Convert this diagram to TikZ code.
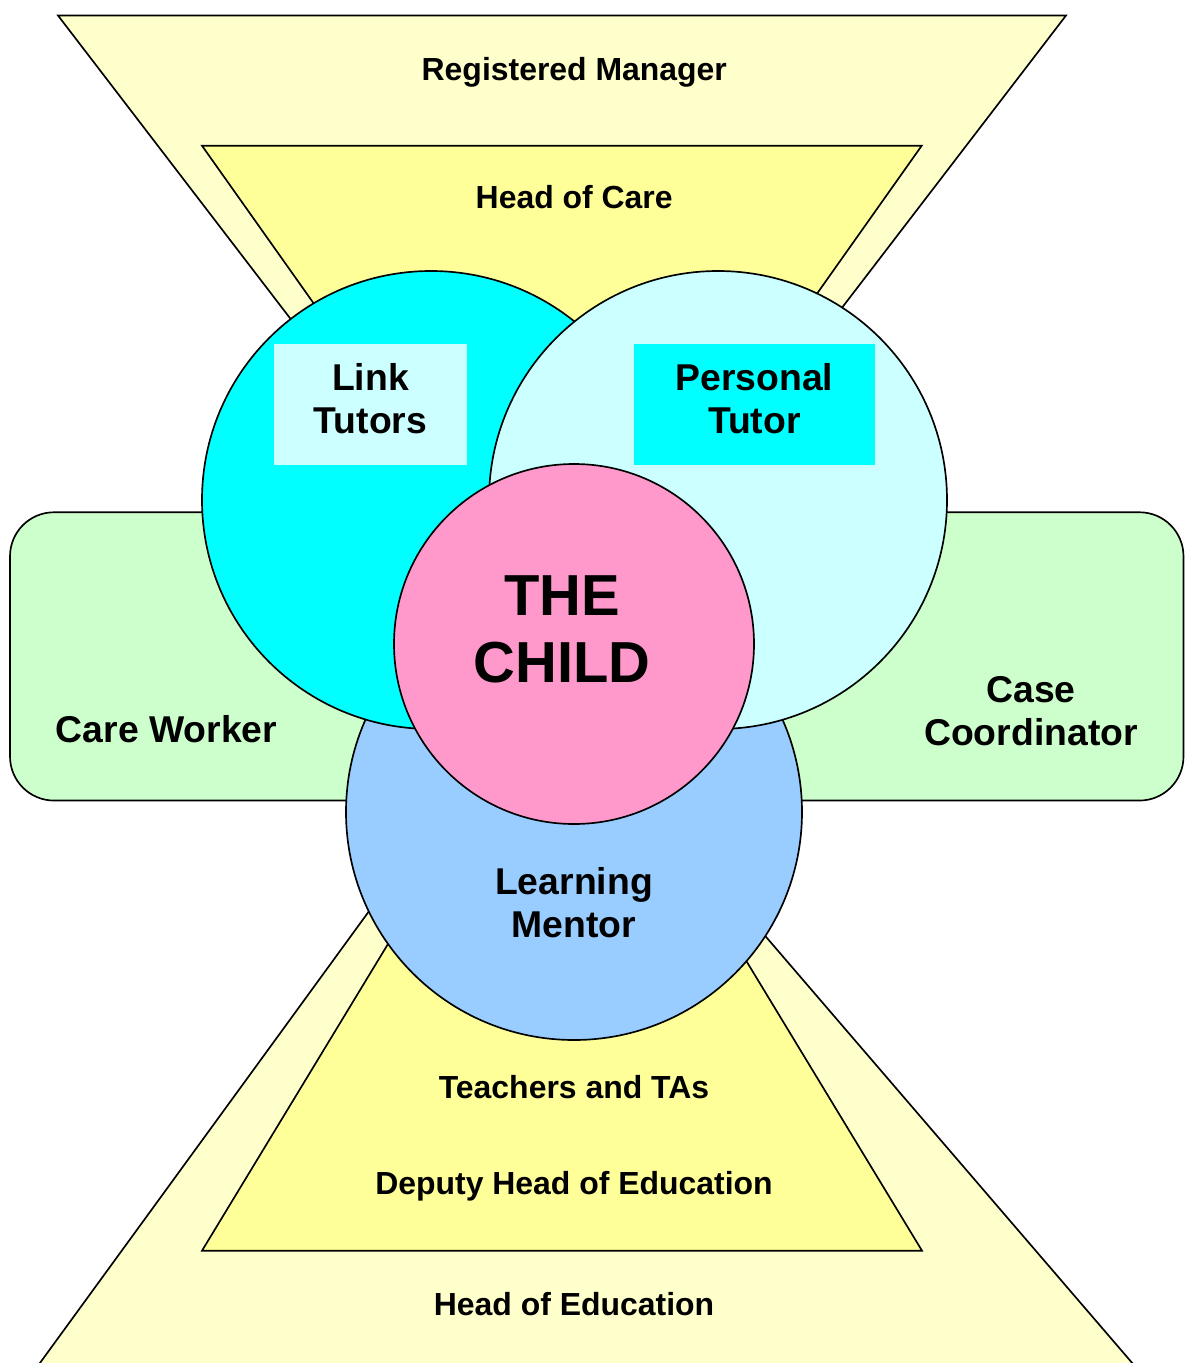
\documentclass[tikz,border=0pt]{standalone}
\usepackage{fontspec}
\setmainfont{Liberation Sans}
\definecolor{outerY}{HTML}{FFFFCC}
\definecolor{innerY}{HTML}{FFFF99}
\definecolor{bandG}{HTML}{CCFFCC}
\definecolor{cyanC}{HTML}{00FFFF}
\definecolor{paleC}{HTML}{CCFFFF}
\definecolor{mentorB}{HTML}{99CCFF}
\definecolor{childP}{HTML}{FF99CC}
\begin{document}
\begin{tikzpicture}[x=0.75pt,y=-0.75pt,
  outl/.style={draw=black, line width=1.25pt, line join=miter},
  circ/.style={outl, circle, inner sep=0pt, outer sep=0pt},
  lbox/.style={rectangle, inner sep=0pt, outer sep=0pt, minimum height=90.5pt},
  txtS/.style={font=\fontsize{23.95}{28}\selectfont\bfseries, inner sep=0pt},
  txtM/.style={font=\fontsize{28.0}{32.3}\selectfont\bfseries, inner sep=0pt, align=center},
  txtL/.style={font=\fontsize{43.4}{50.5}\selectfont\bfseries, inner sep=0pt, align=center}]
\useasboundingbox (0,0) rectangle (1185,1363);
\clip (0,0) rectangle (1185,1363);
% funnels
\path[outl, fill=outerY] (58,15.5) -- (1066,15.5) -- (562,673) -- cycle;
\path[outl, fill=innerY] (202,145.7) -- (921.7,145.7) -- (562,654) -- cycle;
\path[outl, fill=outerY] (13,1400) -- (1164,1400) -- (541,675) -- cycle;
\path[outl, fill=innerY] (202,1250.7) -- (922,1250.7) -- (562,657) -- cycle;
% side band
\node[outl, fill=bandG, rectangle, rounded corners=33pt, inner sep=0pt,
      minimum width=880.1pt, minimum height=216.2pt] (band) at (596.75,656.4) {};
% circles
\node[circ, fill=mentorB, minimum size=342pt] (mentor) at (574,812) {};
\node[circ, fill=cyanC, minimum size=343.5pt] (link) at (431,500) {};
\node[circ, fill=paleC, minimum size=343.5pt] (personal) at (718,500) {};
\node[circ, fill=childP, minimum size=270pt] (child) at (574,644) {};
% label boxes
\node[lbox, fill=paleC, minimum width=144.5pt] (linkbox) at (370.35,404.35) {};
\node[lbox, fill=cyanC, minimum width=180.75pt] (persbox) at (754.5,404.35) {};
% texts
\node[txtS, anchor=base] (regman) at (574.3,80) {Registered Manager};
\node[txtS, anchor=base] (hoc) at (574.2,208.3) {Head of Care};
\node[txtS, anchor=base] (teach) at (574,1098) {Teachers and TAs};
\node[txtS, anchor=base] (dhe) at (574,1194) {Deputy Head of Education};
\node[txtS, anchor=base] (hoe) at (574,1315) {Head of Education};
\node[txtM, anchor=base] (careworker) at (166.5,742) {Care Worker};
\node[txtM, anchor=north] (linktxt) at (370.5,362.7) {Link\\Tutors};
\node[txtM, anchor=north] (perstxt) at (754.3,362.7) {Personal\\Tutor};
\node[txtM, anchor=north] (mentortxt) at (574,866.7) {Learning\\Mentor};
\node[txtM, anchor=north] (casetxt) at (1031,676) {Case\\Coordinator};
\node[txtL, anchor=north] (childtxt) at (562,575) {THE\\CHILD};
\end{tikzpicture}
\end{document}
